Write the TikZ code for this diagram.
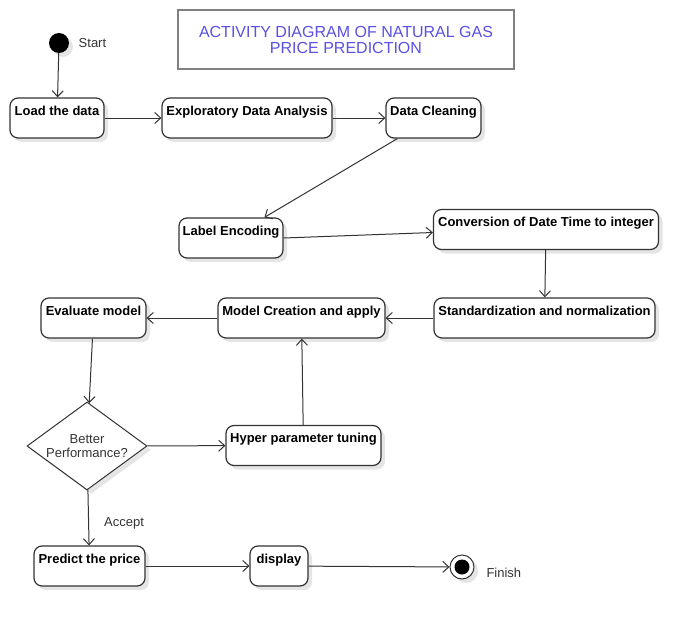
\documentclass[tikz,border=0pt]{standalone}
\usepackage{fontspec}
\setmainfont{Liberation Sans}
\usetikzlibrary{arrows.meta,
                positioning,
                shadows,
                shapes.geometric
            }
\definecolor{titleblue}{RGB}{90,80,225}
\definecolor{linegray}{RGB}{51,51,51}

\begin{document}
\begin{tikzpicture}[x=1pt, y=-1pt,
        act/.style={draw=linegray, line width=1.2pt, rounded corners=8pt, fill=white,
            minimum height=40pt, inner ysep=5pt, text height=12pt, text depth=18pt,
            font=\fontsize{13}{15}\selectfont\bfseries,
            drop shadow={shadow xshift=4pt, shadow yshift=-4pt, fill=black!10, opacity=1}},
        flow/.style={draw=linegray, line width=1pt, -{Straight Barb[length=6pt, width=11pt]}},
        note/.style={font=\fontsize{13}{14}\selectfont, text=linegray}]
            \useasboundingbox (0,0) rectangle (698,626);
            \node[draw=black!50, line width=2pt, minimum width=336pt, minimum height=59pt,
                align=center, text=titleblue, font=\fontsize{16}{16}\selectfont] (title) at (346,39.5)
                {ACTIVITY DIAGRAM OF NATURAL GAS\\PRICE PREDICTION};
            \node[circle, fill=black, minimum size=20pt, inner sep=0pt,
                drop shadow={shadow xshift=4pt, shadow yshift=-4pt, fill=black!10, opacity=1}] (start) at (59,43) {};
            \node[note, right=6pt of start] (startlabel) {Start};
            \node[act, minimum width=94pt] (load) at (57,118) {Load the data};
            \node[act, minimum width=170pt] (eda) at (247,118) {Exploratory Data Analysis};
            \node[act, minimum width=95pt] (clean) at (433.5,118) {Data Cleaning};
            \node[act, minimum width=104pt] (encode) at (231,238) {Label Encoding};
            \node[act, minimum width=225pt] (conv) at (546,229.5) {Conversion of Date Time to integer};
            \node[act, minimum width=221pt] (std) at (544.5,318) {Standardization and normalization};
            \node[act, minimum width=167pt] (model) at (301.5,318) {Model Creation and apply};
            \node[act, minimum width=105pt] (eval) at (93.5,318) {Evaluate model};
            \node[diamond, aspect=1.36, draw=linegray, line width=1pt, fill=white, minimum width=120pt, minimum height=88pt,
                inner sep=0pt, align=center, note,
                drop shadow={shadow xshift=4pt, shadow yshift=-4pt, fill=black!10, opacity=1}] (dec) at (87,446)
                {Better\\Performance?};
            \node[act, minimum width=155pt] (hyper) at (303.5,445.5) {Hyper parameter tuning};
            \node[note] (acceptlabel) at (124,523) {Accept};
            \node[act, minimum width=111pt] (predict) at (89.5,566) {Predict the price};
            \node[act, minimum width=58pt] (disp) at (279,566) {display};
            \node[circle, draw=linegray, line width=1pt, fill=white, minimum size=24pt, inner sep=0pt,
                drop shadow={shadow xshift=4pt, shadow yshift=-4pt, fill=black!10, opacity=1}] (finish) at (462,567) {};
            \node[circle, fill=black, minimum size=15pt, inner sep=0pt] (finishdot) at (finish) {};
            \node[note, anchor=west] (finishlabel) at (483,573) {Finish};
            % flow
            \draw[flow] (start) -- (load);
            \draw[flow] (load) -- (eda);
            \draw[flow] (eda) -- (clean);
            \draw[flow] ([xshift=12pt]clean.south west) -- ([xshift=86pt]encode.north west);
            \draw[flow] (encode.east) -- ([yshift=-3pt]conv.west);
            \draw[flow] (conv) -- (std);
            \draw[flow] (std) -- (model);
            \draw[flow] (model) -- (eval);
            \draw[flow] (eval) -- (dec);
            \draw[flow] (dec) -- (hyper);
            \draw[flow] (hyper) -- (model);
            \draw[flow] (dec) -- (predict);
            \draw[flow] (predict) -- (disp);
            \draw[flow] (disp) -- (finish);
        \end{tikzpicture}
\end{document}
